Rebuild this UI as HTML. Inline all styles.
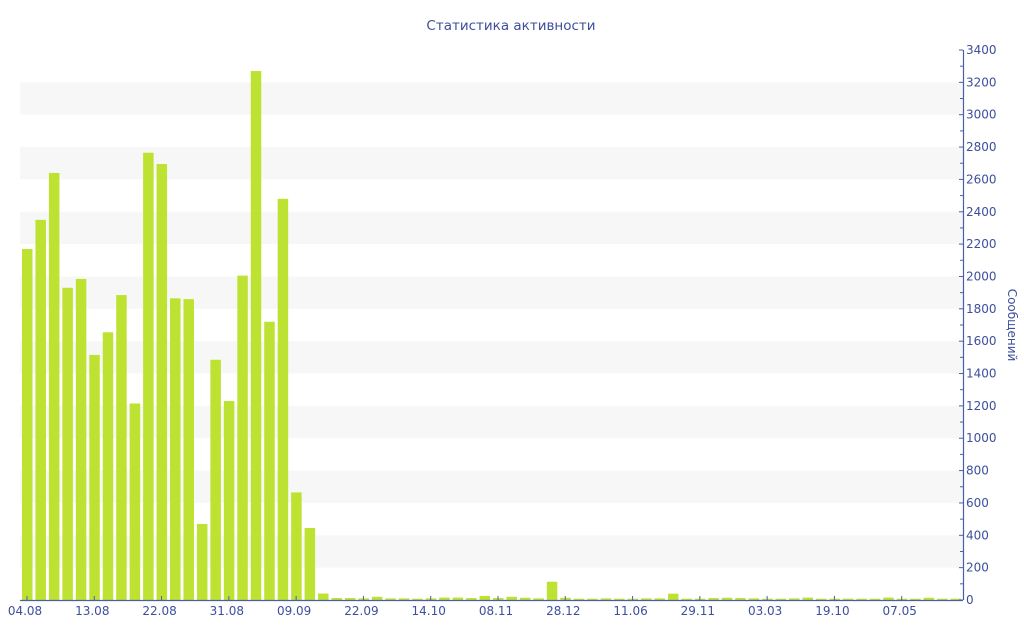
<!DOCTYPE html>
<html><head><meta charset="utf-8"><style>
html,body{margin:0;padding:0;background:#fff;}
svg{display:block;font-family:"DejaVu Sans","Liberation Sans",sans-serif;}
</style></head><body>
<svg id="c" width="1024" height="640" xmlns="http://www.w3.org/2000/svg">
<text x="511" y="30" text-anchor="middle" font-size="13.5" fill="#3d4f9c">Статистика активности</text>
<g id="bands"></g>
<g id="bars" fill="#bde232"></g>
<line x1="20" y1="600.5" x2="963" y2="600.5" stroke="#4a5ea8" stroke-width="1.2"/>
<line x1="963.5" y1="50" x2="963.5" y2="600" stroke="#4a5ea8" stroke-width="1.2"/>
<g id="ticks" stroke="#4a5ea8" stroke-width="1"></g>
<g id="ylab" font-size="12" fill="#3d4f9c"></g>
<g id="xlab" font-size="12" fill="#3d4f9c" text-anchor="middle"></g>
<text transform="translate(1008,325) rotate(90)" text-anchor="middle" font-size="12" fill="#3d4f9c">Сообщений</text>
</svg>
<script>
var NS="http://www.w3.org/2000/svg";
function el(p,t,a,txt){var e=document.createElementNS(NS,t);for(var k in a)e.setAttribute(k,a[k]);if(txt)e.textContent=txt;document.getElementById(p).appendChild(e);}
var k=550/3400;function Y(v){return 600-v*k;}
for(var v=200;v<3400;v+=400){el("bands","rect",{x:20,y:Y(v+200),width:943,height:200*k,fill:"#f7f7f7"});}
for(var v=0;v<=3400;v+=100){var y=Y(v);el("ticks","line",{x1:v%200?960:959,x2:963,y1:y,y2:y});
 if(v%200==0)el("ylab","text",{x:966,y:y+4},String(v));}
var vals=[2170,2350,2640,1930,1985,1515,1655,1885,1215,2765,2695,1865,1860,470,1485,1230,2005,3270,1720,2480,665,445,
40,12,12,10,20,10,10,8,10,15,15,12,25,12,20,14,10,113,14,8,8,10,8,8,10,10,
39,8,8,12,14,12,10,8,8,10,15,8,8,8,8,8,15,8,8,14,8,8];
var step=13.457;
vals.forEach(function(v,i){var x=20+i*step+2;el("bars","rect",{x:x.toFixed(2),y:Y(v).toFixed(2),width:10.5,height:(v*k).toFixed(2)});});
var labs=["04.08","13.08","22.08","31.08","09.09","22.09","14.10","08.11","28.12","11.06","29.11","03.03","19.10","07.05"];
labs.forEach(function(l,j){var x=27+j*5*step;el("ticks","line",{x1:x,x2:x,y1:596,y2:601});el("xlab","text",{x:x-2,y:615},l);});
</script>
</body></html>
